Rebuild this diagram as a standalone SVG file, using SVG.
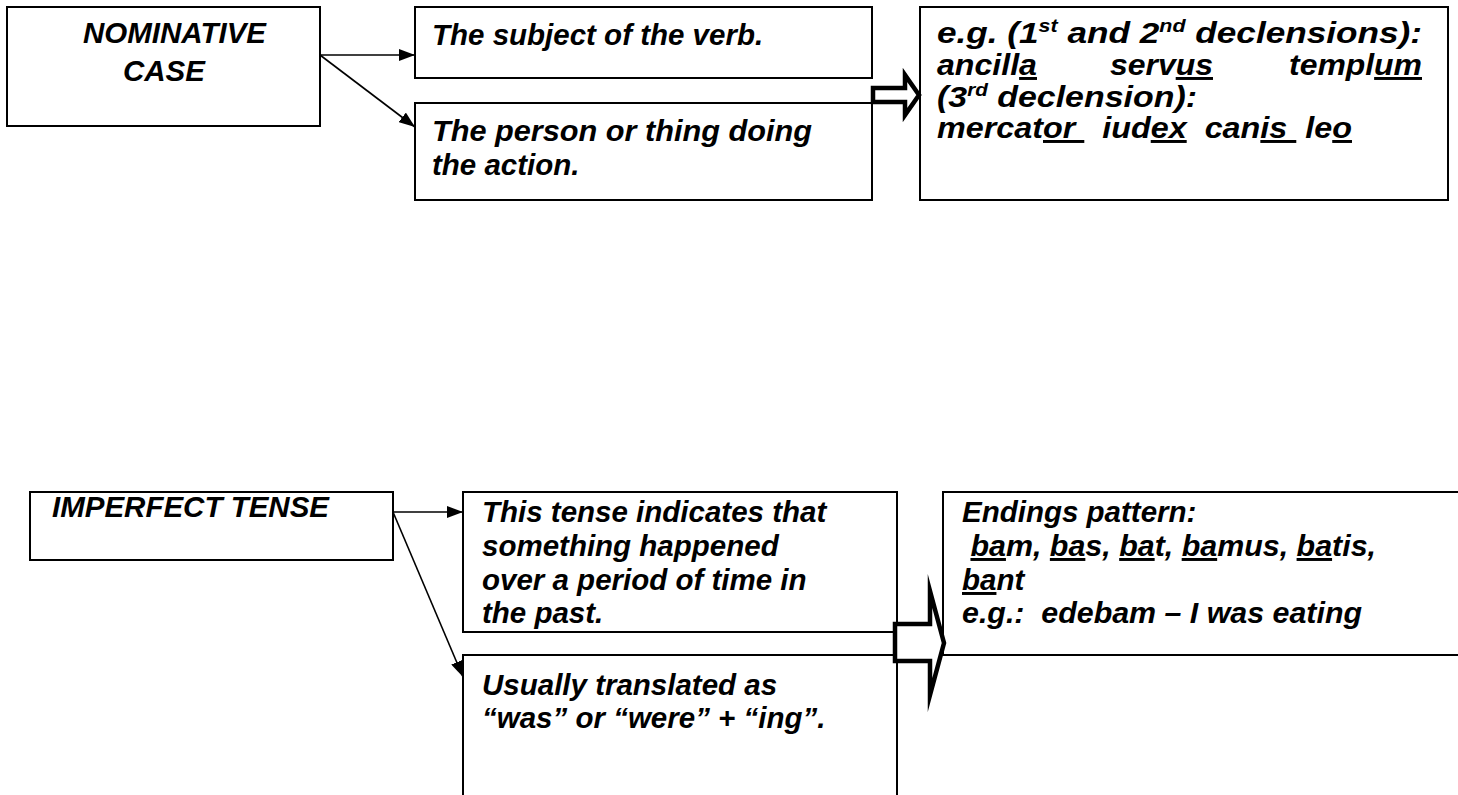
<svg xmlns="http://www.w3.org/2000/svg" width="1458" height="795" viewBox="0 0 1458 795">
  <style>
    .box { fill: #ffffff; stroke: #000000; stroke-width: 2; }
    .t { font-family: "Liberation Sans", Arial, sans-serif; font-weight: bold; font-style: italic; font-size: 29.5px; fill: #000000; }
    .u { text-decoration: underline; text-decoration-thickness: 3px; }
    .sup { font-size: 18px; }
    .link { fill: none; stroke: #000000; stroke-width: 1.6; }
    .block { fill: #ffffff; stroke: #000000; stroke-width: 4.5; stroke-linejoin: miter; stroke-miterlimit: 12; }
  </style>
  <defs>
    <marker id="head" viewBox="0 0 16 12" refX="16" refY="6" markerWidth="16" markerHeight="12" markerUnits="userSpaceOnUse" orient="auto">
      <path d="M0,0 L16,6 L0,12 Z" fill="#000000"/>
    </marker>
  </defs>

  <rect width="1458" height="795" fill="#ffffff"/>

  <!-- Nominative case -->
  <g id="nominative">
    <rect class="box" x="7" y="7" width="313" height="119"/>
    <text class="t" x="83" y="43">NOMINATIVE</text>
    <text class="t" x="164" y="81" text-anchor="middle">CASE</text>
  </g>

  <g id="subject">
    <rect class="box" x="415" y="7" width="457" height="71"/>
    <text class="t" x="432" y="45">The subject of the verb.</text>
  </g>

  <g id="doer">
    <rect class="box" x="415" y="103" width="457" height="97"/>
    <text class="t" x="432" y="141" textLength="380" lengthAdjust="spacingAndGlyphs">The person or thing doing</text>
    <text class="t" x="432" y="175">the action.</text>
  </g>

  <!-- examples: this box is set a little wider, the first two lines justified -->
  <g id="nominative-examples">
    <rect class="box" x="920" y="7" width="528" height="193"/>
    <text class="t" x="937" y="43" textLength="485" lengthAdjust="spacingAndGlyphs" xml:space="preserve">e.g. (1<tspan class="sup" dy="-11">st</tspan><tspan dy="11"> and 2</tspan><tspan class="sup" dy="-11">nd</tspan><tspan dy="11"> declensions):</tspan></text>
    <text class="t" x="937" y="75" textLength="100" lengthAdjust="spacingAndGlyphs">ancill<tspan class="u">a</tspan></text>
    <text class="t" x="1110" y="75" textLength="103" lengthAdjust="spacingAndGlyphs">serv<tspan class="u">us</tspan></text>
    <text class="t" x="1289" y="75" textLength="133" lengthAdjust="spacingAndGlyphs">templ<tspan class="u">um</tspan></text>
    <text class="t" x="937" y="107" textLength="260" lengthAdjust="spacingAndGlyphs" xml:space="preserve">(3<tspan class="sup" dy="-11">rd</tspan><tspan dy="11"> declension):</tspan></text>
    <text class="t" x="937" y="138" textLength="415" lengthAdjust="spacingAndGlyphs" xml:space="preserve">mercat<tspan class="u">or </tspan>  iud<tspan class="u">ex</tspan>  can<tspan class="u">is </tspan> le<tspan class="u">o</tspan></text>
  </g>

  <!-- Imperfect tense -->
  <g id="imperfect">
    <rect class="box" x="30" y="492" width="363" height="68"/>
    <text class="t" x="52" y="517">IMPERFECT TENSE</text>
  </g>

  <g id="meaning">
    <rect class="box" x="463" y="492" width="434" height="140"/>
    <text class="t" x="482" y="522">This tense indicates that</text>
    <text class="t" x="482" y="556">something happened</text>
    <text class="t" x="482" y="590">over a period of time in</text>
    <text class="t" x="482" y="623">the past.</text>
  </g>

  <g id="translation">
    <rect class="box" x="463" y="655" width="434" height="160"/>
    <text class="t" x="482" y="695">Usually translated as</text>
    <text class="t" x="482" y="728">“was” or “were” + “ing”.</text>
  </g>

  <g id="endings">
    <rect class="box" x="943" y="492" width="530" height="163"/>
    <text class="t" x="962" y="522">Endings pattern:</text>
    <text class="t" x="962" y="556" textLength="414" lengthAdjust="spacingAndGlyphs" xml:space="preserve"> <tspan class="u">ba</tspan>m, <tspan class="u">ba</tspan>s, <tspan class="u">ba</tspan>t, <tspan class="u">ba</tspan>mus, <tspan class="u">ba</tspan>tis,</text>
    <text class="t" x="962" y="590"><tspan class="u">ba</tspan>nt</text>
    <text class="t" x="962" y="623" textLength="400" lengthAdjust="spacingAndGlyphs" xml:space="preserve">e.g.:  edebam – I was eating</text>
  </g>

  <!-- Connectors -->
  <g id="connectors">
    <line class="link" x1="320" y1="55" x2="415" y2="55" marker-end="url(#head)"/>
    <line class="link" x1="320" y1="55" x2="415" y2="127" marker-end="url(#head)"/>
    <line class="link" x1="393" y1="512" x2="463" y2="512" marker-end="url(#head)"/>
    <line class="link" x1="393" y1="512" x2="463" y2="677" marker-end="url(#head)"/>
    <polygon class="block" points="873,88 905,88 905,75 919,95 905,115 905,102 873,102"/>
    <polygon class="block" points="895,624 930,624 930,591 944,643 930,695 930,661 895,661"/>
  </g>
</svg>
